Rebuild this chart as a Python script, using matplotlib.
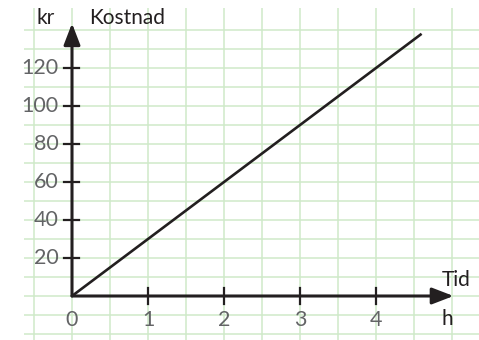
import numpy as np
import matplotlib.pyplot as plt

# data: cost grows 30 kr per hour
hours = [0, 4.6]
cost = [0, 138]
x_ticks = [0, 1, 2, 3, 4]
y_ticks = [20, 40, 60, 80, 100, 120]

INK = '#231f20'
GRID = '#cfe9c9'
TICK_GRAY = '#636466'
FONT = 'Lato'

fig = plt.figure(figsize=(4.79, 3.40), dpi=100)
ax = fig.add_axes([0, 0, 1, 1])
# 76 px per hour, 38 px per 20 kr, origin at pixel (72, 296)
ax.set_xlim(-72 / 76, (479 - 72) / 76)
ax.set_ylim(-(340 - 296) / 38 * 20, 296 / 38 * 20)
ax.axis('off')

# graph paper
ax.vlines(np.arange(-0.5, 5.01, 0.5), -24, 151.6, color=GRID, lw=1.1, zorder=0)
ax.hlines(np.arange(-20, 141, 10), -0.63, 6, color=GRID, lw=1.1, zorder=0)

# axes with arrows
arrow = dict(arrowstyle='-|>,head_length=1.3,head_width=0.5', lw=2.2,
             color=INK, shrinkA=0, shrinkB=0)
ax.annotate('', xy=(5.02, 0), xytext=(0, 0), arrowprops=arrow, zorder=3)
ax.annotate('', xy=(0, 143.5), xytext=(0, 0), arrowprops=arrow, zorder=3)

# ticks
tick_dx = 7.5 / 76
tick_dy = 8 / 38 * 20
for t in x_ticks[1:]:
    ax.plot([t, t], [-tick_dy, tick_dy], color=INK, lw=1.6, zorder=3)
for t in y_ticks:
    ax.plot([-tick_dx, tick_dx], [t, t], color=INK, lw=1.6, zorder=3)

for t in x_ticks:
    ax.text(t, -12.8, str(t), ha='center', va='center', fontsize=15.5,
            family=FONT, color=TICK_GRAY, zorder=5)
for t in y_ticks:
    ax.text(-0.18, t, str(t), ha='right', va='center', fontsize=15.5,
            family=FONT, color=TICK_GRAY, zorder=5)

# cost line
ax.plot(hours, cost, color=INK, lw=1.9, solid_capstyle='butt', zorder=4)

# axis labels
lab = dict(va='center', fontsize=15, family=FONT, color=INK, zorder=5)
ax.text(-0.47, 146.2, 'kr', ha='left', **lab)
ax.text(0.22, 146.2, 'Kostnad', ha='left', **lab)
ax.text(4.86, 8.6, 'Tid', ha='left', **lab)
ax.text(4.86, -12.2, 'h', ha='left', **lab)

fig.savefig('out.png', dpi=100)
